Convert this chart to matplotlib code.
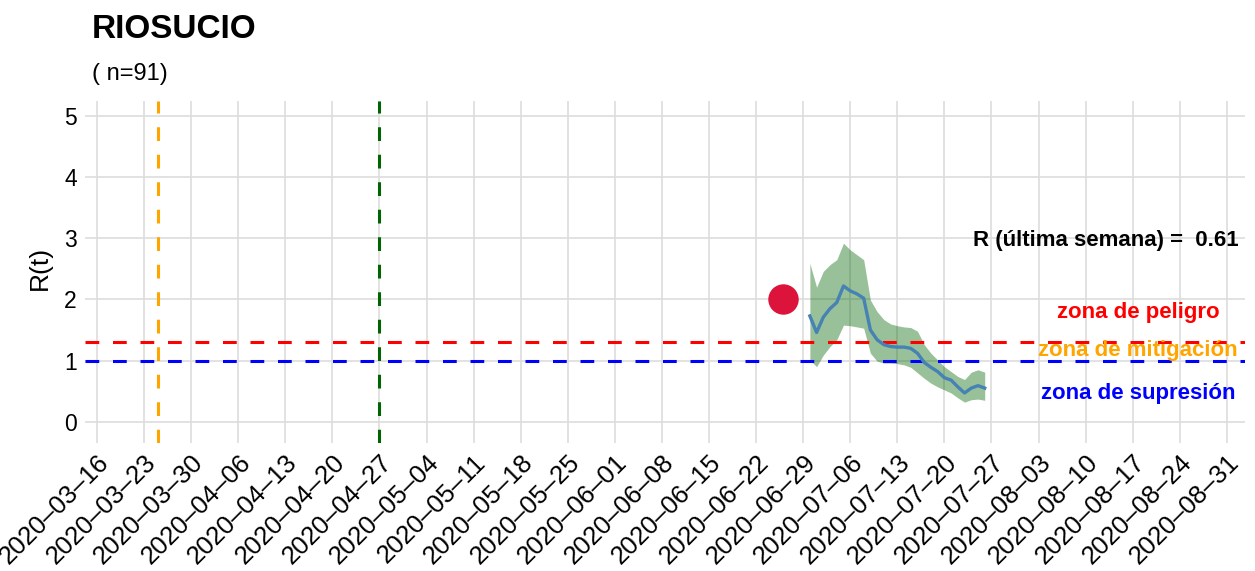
import numpy as np
import matplotlib
matplotlib.use("Agg")
import matplotlib.pyplot as plt
import matplotlib.dates as mdates

plt.rcParams['font.family'] = ['Liberation Sans', 'DejaVu Sans']

# R(t) estimate, daily from 2020-06-30
dates = np.arange(np.datetime64('2020-06-30'), np.datetime64('2020-07-27'))
r_mean = [1.73, 1.46, 1.71, 1.85, 1.95, 2.22, 2.14, 2.09, 2.02, 1.50,
          1.34, 1.26, 1.23, 1.22, 1.22, 1.20, 1.12, 0.97, 0.89, 0.82,
          0.72, 0.68, 0.57, 0.47, 0.55, 0.59, 0.55]
r_upper = [2.59, 2.20, 2.46, 2.57, 2.65, 2.92, 2.81, 2.73, 2.65, 1.99,
           1.80, 1.67, 1.60, 1.57, 1.55, 1.54, 1.48, 1.26, 1.12, 1.01,
           0.90, 0.82, 0.74, 0.69, 0.81, 0.85, 0.81]
r_lower = [1.01, 0.90, 1.09, 1.23, 1.34, 1.58, 1.57, 1.55, 1.53, 1.12,
           0.99, 0.96, 0.96, 0.95, 0.93, 0.89, 0.80, 0.71, 0.63, 0.57,
           0.52, 0.47, 0.39, 0.32, 0.36, 0.37, 0.35]

dot_date = np.datetime64('2020-06-26')
dot_value = 2.0
first_case = np.datetime64('2020-03-25')
lockdown = np.datetime64('2020-04-27')
tick_dates = np.arange(np.datetime64('2020-03-16'), np.datetime64('2020-09-01'), 7)

title = "RIOSUCIO"
subtitle = "( n=91)"
r_last = 0.61

fig = plt.figure(figsize=(12.55, 5.71), dpi=100)
ax = fig.add_axes([85 / 1255, 128 / 571, 1160 / 1255, 342 / 571])

ax.fill_between(dates, r_lower, r_upper, color='darkgreen', alpha=0.4, linewidth=0, zorder=2)
ax.axhline(1.3, color='red', lw=2.2, dashes=(4.5, 4.5), zorder=3)
ax.axhline(1.0, color='blue', lw=2.2, dashes=(4.5, 4.5), zorder=3)
ax.axvline(first_case, color='orange', lw=2.2, dashes=(4.5, 4.5), zorder=3)
ax.axvline(lockdown, color='darkgreen', lw=2.2, dashes=(4.5, 4.5), zorder=3)
ax.plot(dates, r_mean, color='#4682B4', lw=2.4, zorder=4)
ax.scatter([dot_date], [dot_value], s=480, color='#DC143C', linewidths=0, zorder=5)

start = np.datetime64('2020-03-16')
ax.set_xlim(mdates.date2num(start) - 1.78, mdates.date2num(start) + 170.7)
ax.set_ylim(-0.348, 5.245)
ax.set_yticks(range(6))
ax.set_xticks(tick_dates)
ax.set_xticklabels([str(d).replace('-', '\u2013') for d in tick_dates],
                   rotation=45, ha='right', va='top', rotation_mode='anchor')
ax.tick_params(axis='both', length=0, colors='black')
ax.tick_params(axis='y', pad=6, labelsize=16.5)
ax.tick_params(axis='x', pad=5, labelsize=18.5)
ax.grid(True, color='#DDDDDD', lw=1.2, zorder=0)
ax.set_axisbelow(True)
for s in ax.spines.values():
    s.set_visible(False)

x_text = mdates.date2num(start) + 154.8
ax.text(mdates.date2num(start) + 169.7, 2.97, f"R (última semana) =  {r_last}",
        ha='right', va='center', fontsize=16, fontweight='bold', color='black')
ax.text(x_text, 1.78, "zona de peligro", ha='center', va='center',
        fontsize=16, fontweight='bold', color='red')
ax.text(x_text, 1.17, "zona de mitigación", ha='center', va='center',
        fontsize=16, fontweight='bold', color='orange')
ax.text(x_text, 0.46, "zona de supresión", ha='center', va='center',
        fontsize=16, fontweight='bold', color='blue')

fig.text(92 / 1255, 1 - 38 / 571, title, fontsize=24, fontweight='bold', va='baseline')
fig.text(92 / 1255, 1 - 80 / 571, subtitle, fontsize=17, va='baseline')
fig.text(40 / 1255, 1 - 268 / 571, "R(t)", fontsize=19, rotation=90, ha='center', va='center')

fig.savefig("out.png", dpi=100)
